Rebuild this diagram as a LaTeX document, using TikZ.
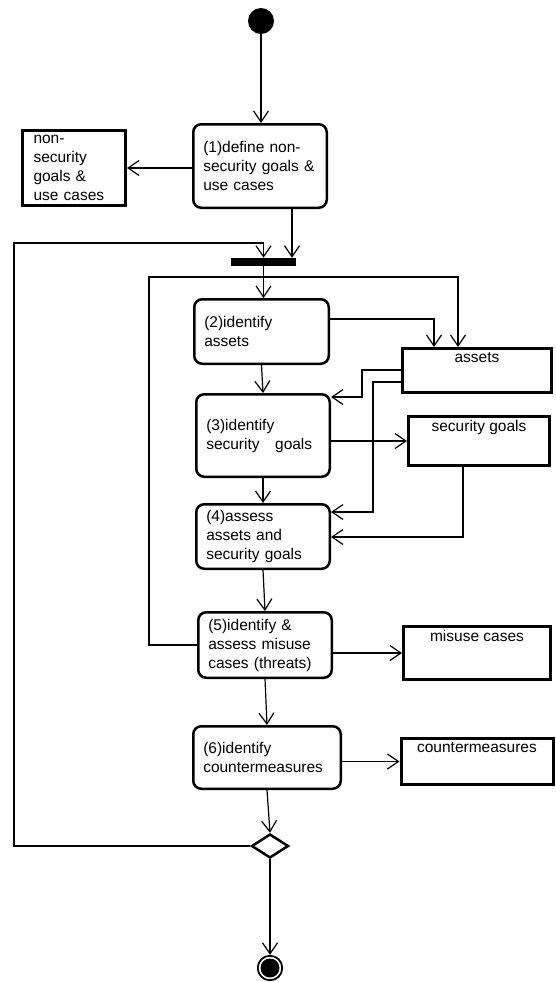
\documentclass[tikz,border=0pt]{standalone}
\usepackage{fontspec}
\setmainfont{Liberation Sans}
\usetikzlibrary{arrows.meta,shapes.geometric}

\begin{document}
\begin{tikzpicture}[x=1pt,y=-1pt,
		font=\fontsize{15.5}{19}\selectfont,
		act/.style={draw, rounded corners=8pt, line width=2.5pt, align=left, inner xsep=10pt, inner ysep=2pt},
		obj/.style={draw, line width=3pt, inner sep=0pt},
		objtxt/.style={anchor=north, inner sep=0pt, yshift=-5pt},
		flow/.style={line width=1.2pt, -{Straight Barb[length=11pt,width=15pt]}}]
		\useasboundingbox (0,0) rectangle (556,982);
		\node [circle, fill, inner sep=0pt, minimum size=26pt] at (261,21) (init) {};
		\node [act, text width=113.5pt, minimum height=83.5pt] at (260,166) (a1) {(1)define non-\\security goals \&\\use cases};
		\node [obj, align=left, inner xsep=11pt, text width=81pt, minimum height=75pt] at (74,168) (ns) {non-\\security\\goals \&\\use cases};
		\node [fill, inner sep=0pt, minimum width=65pt, minimum height=8pt] at (263.5,262) (fork) {};
		\node [act, text width=114.5pt, minimum height=64.5pt] at (261.5,331.5) (a2) {(2)identify\\assets};
		\node [obj, minimum width=149pt, minimum height=44pt, label={[objtxt]north:assets}] at (477,370.5) (as) {};
		\node [act, text width=113.5pt, minimum height=82.5pt] at (263,435.5) (a3) {(3)identify\\security~~~goals};
		\node [obj, minimum width=141pt, minimum height=49pt, label={[objtxt]north:security goals}] at (479,441) (sg) {};
		\node [act, text width=113.5pt, minimum height=64.5pt] at (263,536.5) (a4) {(4)assess\\assets and\\security goals};
		\node [act, text width=113.5pt, minimum height=65.5pt] at (265,645) (a5) {(5)identify \&\\assess misuse\\cases (threats)};
		\node [obj, minimum width=147pt, minimum height=53pt, label={[objtxt]north:misuse cases}] at (477,653) (mc) {};
		\node [act, text width=127.5pt, minimum height=62.5pt] at (267,757.5) (a6) {(6)identify\\countermeasures};
		\node [obj, minimum width=152pt, minimum height=46pt, label={[objtxt]north:countermeasures}] at (477,761.5) (cm) {};
		\node [diamond, draw, line width=2.5pt, inner sep=0pt, minimum width=37pt, minimum height=24pt] at (270,846) (dec) {};
		\node [circle, draw, line width=1.8pt, inner sep=0pt, minimum size=24.5pt,
			path picture={\fill (path picture bounding box.center) circle (9.5pt);}] at (270,968) (fin) {};
		\coordinate (j1) at (292,0);
		\coordinate (lb) at (14,243);
		\coordinate (rb) at (149,277);
		\coordinate (ra) at (458,0);
		\coordinate (ra2) at (434,319);
		\coordinate (c1) at (362,370);
		\coordinate (c2) at (362,397);
		\coordinate (c3) at (373,382);
		\coordinate (c4) at (373,512);
		\coordinate (c5) at (463,537);
		\draw [flow] (init) -- (init |- a1.north);
		\draw [flow] (a1.west |- ns.east) -- (ns.east);
		\draw [flow] (a1.south -| j1) -- (fork.north -| j1);
		\draw [flow] (dec.west) -| (lb) -| (fork.north);
		\draw [flow] (fork.south) -- (fork.south |- a2.north);
		\draw [flow] (a5.west) -| (rb) -| (as.north -| ra);
		\draw [flow] (a2.east |- ra2) -| (as.north -| ra2);
		\draw [flow] (as.west |- c1) -- (c1) -- (c2) -- (a3.east |- c2);
		\draw [flow] (as.west |- c3) -- (c3) -- (c4) -- (a4.east |- c4);
		\draw [flow] (a3.east |- sg.west) -- (sg.west);
		\draw [flow] (sg.south -| c5) |- (a4.east |- c5);
		\draw [flow] (a2.south) -- (a3.north);
		\draw [flow] (a3.south) -- (a4.north);
		\draw [flow] (a4.south) -- (a5.north);
		\draw [flow] (a5.south) -- (a6.north);
		\draw [flow] (a5.east |- mc.west) -- (mc.west);
		\draw [flow] (a6.east |- cm.west) -- (cm.west);
		\draw [flow] (a6.south) -- (dec.north);
		\draw [flow] (dec.south) -- (fin.north);
\end{tikzpicture}
\end{document}
